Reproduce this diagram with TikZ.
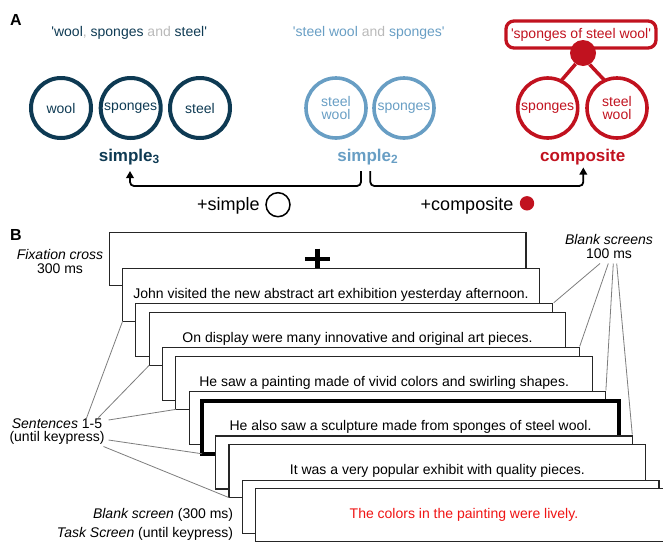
\documentclass[tikz,border=0pt]{standalone}
\usepackage{fontspec}
\setmainfont{Liberation Sans}
\usetikzlibrary{arrows.meta}
\definecolor{navy}{RGB}{14,58,83}
\definecolor{lblue}{RGB}{104,158,196}
\definecolor{cred}{RGB}{193,18,31}
\definecolor{andgray}{RGB}{185,185,185}
\definecolor{linegray}{RGB}{125,125,125}
\newcommand\myfs[2]{\fontsize{#1pt}{#2pt}\selectfont}
\begin{document}
\begin{tikzpicture}[x=1pt,y=-1pt,
  word/.style={circle, minimum size=60pt, inner sep=0pt, outer sep=0pt, line width=4pt, align=center, font={\myfs{14}{13}}},
  lab/.style={anchor=base, font={\bfseries\myfs{17}{17}}},
  phrase/.style={anchor=base, font={\myfs{14}{14}}},
  conn/.style={line width=1.8pt, rounded corners=4pt, -{Triangle[length=7pt,width=7.5pt]}},
  scr/.style={draw=black!85, fill=white, line width=1.1pt, minimum width=416.7pt, minimum height=53pt, anchor=north west, inner sep=0pt, outer sep=0pt, font={\myfs{14}{14}}},
  side/.style={font={\myfs{14}{13.5}}, align=center, inner sep=0pt},
  gline/.style={draw=linegray, line width=0.8pt},
  panel/.style={font={\bfseries\myfs{16}{16}}, inner sep=0pt}
]
\useasboundingbox (0,0) rectangle (663,544);
\clip (0,0) rectangle (663,544);

% ---------------- Panel A ----------------
\node[panel] (pa) at (15.8,20) {A};

\node[phrase] (ph3) at (129.2,36) {\color{navy}\textquotesingle wool\color{andgray}, \color{navy}sponges \color{andgray}and \color{navy}steel\textquotesingle};
\node[phrase] (ph2) at (368.8,36) {\color{lblue}\textquotesingle steel wool \color{andgray}and \color{lblue}sponges\textquotesingle};
\node[draw=cred, line width=3.3pt, rounded corners=8pt, minimum width=150pt, minimum height=27pt, inner sep=0pt, text=cred, font={\myfs{14}{14}}] (ph1) at (581,34.5) {\textquotesingle sponges of steel wool\textquotesingle};

% simple3
\node[word, draw=navy, text=navy] (a1) at (61,108) {wool};
\node[word, draw=navy, text=navy] (a2) at (130.7,108) {sponges};
\node[word, draw=navy, text=navy] (a3) at (200,108) {steel};
\node[lab, text=navy] (l3) at (129.3,161) {simple\textsubscript{3}};

% simple2
\node[word, draw=lblue, text=lblue, line width=3.6pt] (b1) at (336,108) {steel\\wool};
\node[word, draw=lblue, text=lblue, line width=3.6pt] (b2) at (404,108) {sponges};
\node[lab, text=lblue] (l2) at (367.8,161) {simple\textsubscript{2}};

% composite
\node[word, draw=cred, text=cred, line width=3.6pt] (c1) at (547.7,108) {sponges};
\node[word, draw=cred, text=cred, line width=3.6pt] (c2) at (617,108) {steel\\wool};
\node[circle, fill=cred, minimum size=26pt, inner sep=0pt] (rdot) at (583,53) {};
\draw[cred, line width=3.5pt] (rdot.236) -- (c1.64);
\draw[cred, line width=3.5pt] (rdot.300) -- (c2.114);
\node[lab, text=cred] (lc) at (582.7,161) {composite};

% arrows
\coordinate (fL) at (361,171);
\coordinate (fR) at (370.3,171);
\coordinate (t3) at (130,171);
\coordinate (tc) at (583.3,167.5);
\draw[conn] (fL) -- (fL |- 0,186) -| (t3);
\draw[conn] (fR) -- (fR |- 0,186) -| (tc);

\node[anchor=base, font={\myfs{18}{18}}] (ps) at (228.3,210.5) {+simple};
\node[circle, draw, line width=1.5pt, minimum size=24pt, inner sep=0pt] (psc) at (278,204.7) {};
\node[anchor=base, font={\myfs{18}{18}}] (pc) at (467,210.5) {+composite};
\node[circle, fill=cred, minimum size=14.4pt, inner sep=0pt] (pcc) at (527,203.3) {};

% ---------------- Panel B ----------------
\node[panel] (pb) at (16,234.7) {B};

\node[scr] (s1)  at (109.3,232.7) {};
\draw[line width=4.5pt] ([xshift=-12.8pt]s1.center) -- ([xshift=12.8pt]s1.center);
\draw[line width=4.5pt] ([yshift=10.5pt]s1.center) -- ([yshift=-10.5pt]s1.center);
\node[scr] (s2)  at (122.6,268.2) {John visited the new abstract art exhibition yesterday afternoon.};
\node[scr] (s3)  at (135.9,303.7) {};
\node[scr] (s4)  at (149.2,312.3) {On display were many innovative and original art pieces.};
\node[scr] (s5)  at (162.5,347.8) {};
\node[scr] (s6)  at (175.8,356.4) {He saw a painting made of vivid colors and swirling shapes.};
\node[scr] (s7)  at (189.1,391.9) {};
\node[scr, draw=black, line width=4.5pt] (s8) at (202.2,400.8) {He also saw a sculpture made from sponges of steel wool.};
\node[scr] (s9)  at (215.7,436.0) {};
\node[scr] (s10) at (229.0,444.6) {It was a very popular exhibit with quality pieces.};
\node[scr] (s11) at (242.3,480.1) {};
\node[scr, text={rgb,255:red,240;green,20;blue,20}] (s12) at (255.6,488.7) {The colors in the painting were lively.};

% side labels
\node[side] (fix) at (60,261.5) {\itshape Fixation cross\\300 ms};
\node[side] (sen) at (57,431.5) {\textit{Sentences} 1-5\\(until keypress)};
\node[side] (bls) at (609,246.3) {\itshape Blank screens\\\upshape 100 ms};
\node[side, anchor=east] (bl3) at (233.3,515) {\textit{Blank screen} (300 ms)};
\node[side, anchor=east] (tsk) at (233.3,534.3) {\textit{Task Screen} (until keypress)};

\coordinate (sa) at (86,419.5);
\coordinate (sb) at (98.5,417.5);
\coordinate (sc) at (108.5,420);
\coordinate (sd) at (108.5,440);
\coordinate (se) at (103.5,446.5);
\draw[gline] (sa) -- (s2.south west);
\draw[gline] (sb) -- (s4.south west);
\draw[gline] (sc) -- (s6.south west);
\draw[gline] (sd) -- (s8.south west);
\draw[gline] (se) -- (s10.south west);

\coordinate (ba) at (600,263.5);
\coordinate (bb) at (608.3,263.5);
\coordinate (bc) at (613.3,263.5);
\coordinate (bd) at (616.7,263.5);
\draw[gline, shorten >=1.5pt] (ba) -- (s3.north east);
\draw[gline, shorten >=1.5pt] (bb) -- (s5.north east);
\draw[gline, shorten >=1.5pt] (bc) -- (s7.north east);
\draw[gline, shorten >=1.5pt] (bd) -- (s9.north east);
\end{tikzpicture}
\end{document}
